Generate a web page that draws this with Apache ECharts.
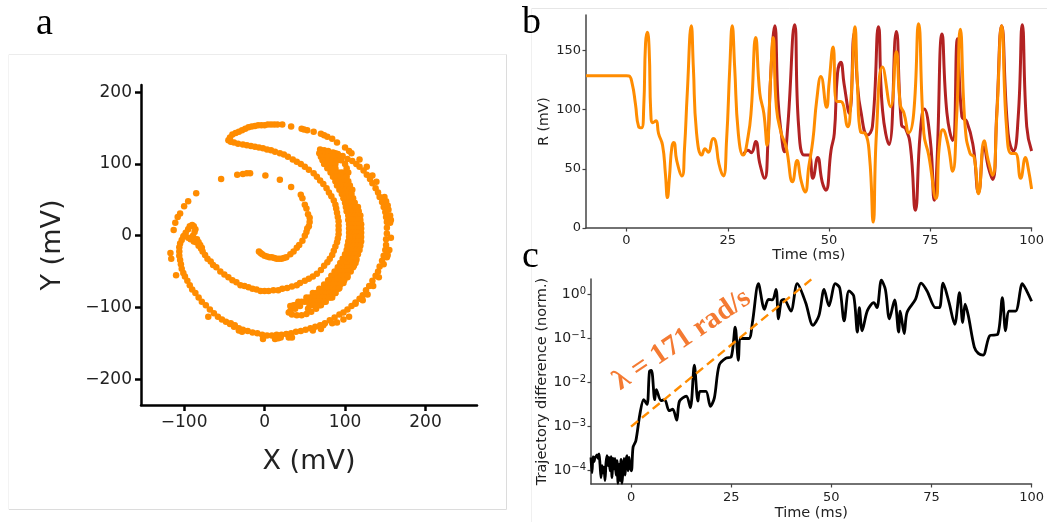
<!DOCTYPE html>
<html><head><meta charset="utf-8">
<style>html,body{margin:0;padding:0;background:#fff}#c{width:1047px;height:522px}</style>
<script src="https://cdn.jsdelivr.net/npm/echarts@6/dist/echarts.min.js"></script>
</head><body><div id="c"></div>
<script>
// Panel a: attractor samples (X mV, Y mV), by branch
const innerSpiral=[[-7,-22],[-5,-24],[-3,-26],[0,-28],[3,-29],[6,-30],[9,-30],[12,-31],[15,-32],[18,-32],[21,-32],[24,-31],[27,-30],[32,-26],[36,-22],[40,-17],[43,-13],[47,-7],[50,0],[52,5],[53,10],[55,13],[56,19],[56,25],[54,30],[52,38],[50,43],[47,52],[45,57],[33,68],[19,78],[1,84],[-18,87],[-22,87],[-27,86],[-34,85],[-54,79],[-85,59],[-95,48],[-100,41],[-105,31],[-108,26],[-111,18],[-113,8],[-117,-24],[-116,-32],[-110,-55]];
const middleArc=[[-45,133],[-42,131],[-38,130],[-33,128],[-27,127],[-22,126],[-17,125],[-12,124],[-7,123],[-2,122],[3,120],[8,119],[13,117],[19,115],[24,113],[29,110],[35,106],[40,103],[45,100],[50,96],[55,92],[61,87],[65,82],[69,77],[73,72],[77,66],[80,60],[83,55],[86,49],[88,43],[89,38],[90,32],[91,26],[92,20],[92,14],[92,8],[92,2],[91,-4],[90,-9],[88,-15],[86,-21],[84,-27],[81,-32],[78,-37],[74,-42],[70,-48],[65,-53],[60,-57],[55,-60],[50,-63],[44,-66],[40,-69],[34,-71],[28,-73],[22,-74],[17,-76],[11,-76],[5,-77],[0,-77],[-5,-77],[-10,-75],[-15,-74],[-20,-72],[-25,-70],[-30,-69],[-35,-65],[-40,-62],[-45,-58],[-50,-54],[-55,-50],[-60,-44],[-64,-41],[-67,-36],[-71,-32],[-74,-27],[-77,-22],[-79,-18],[-82,-14],[-85,-9],[-87,-5],[-89,0],[-87,5],[-86,9],[-88,13],[-90,15],[-93,13],[-95,9],[-98,4],[-100,0],[-95,-3],[-92,-5],[-88,-8],[-84,-5],[-82,-9],[-80,-13],[-78,-17]];
const outerArc=[[-101,-1],[-103,-6],[-105,-11],[-106,-16],[-106,-22],[-106,-28],[-105,-34],[-104,-40],[-103,-46],[-101,-52],[-99,-57],[-96,-63],[-93,-69],[-90,-75],[-86,-80],[-82,-86],[-78,-92],[-73,-97],[-68,-103],[-63,-108],[-58,-113],[-53,-117],[-48,-120],[-43,-123],[-38,-127],[-32,-129],[-27,-131],[-21,-133],[-15,-135],[-9,-136],[-3,-138],[3,-139],[9,-139],[15,-138],[21,-138],[27,-137],[33,-136],[39,-134],[45,-133],[51,-131],[57,-129],[63,-127],[69,-125],[75,-122],[81,-118],[87,-114],[93,-110],[98,-107],[103,-103],[108,-98],[113,-93],[118,-88],[122,-83],[126,-76],[130,-70],[134,-63],[138,-56],[141,-50],[143,-43],[146,-35],[148,-28],[150,-20],[151,-13],[151,-5],[152,3],[152,11],[152,19],[151,26],[150,33],[148,40],[146,47],[143,54],[141,60],[138,66],[134,73],[131,79],[127,85],[123,91],[118,96],[114,100],[109,104],[103,107],[97,111],[91,114],[85,116],[79,118],[74,119],[69,120]];
const outliers=[[-70,-113],[-42,-122],[-37,-125],[-28,-134],[-32,-132],[-2,-144],[13,-144],[17,-143],[20,-142],[30,-142],[34,-142],[60,-132],[70,-130],[73,-125],[84,-122],[90,-121],[98,-117],[105,-113],[113,-95],[122,-90],[128,-82],[135,-70],[142,-58],[148,-40],[152,-30],[155,-20],[153,-27]];
const topArc=[[-43,137],[-40,141],[-36,143],[-32,145],[-28,147],[-24,149],[-20,151],[-16,152],[-12,153],[-8,154],[-4,154],[0,154],[4,155],[8,155],[12,155],[16,155],[22,155],[33,152],[46,149],[49,148],[53,147],[61,145],[70,142],[74,140],[78,138],[84,135],[90,130],[100,123],[105,118],[108,115],[118,106],[127,96],[134,84],[139,75],[149,54],[151,48],[153,42],[154,36],[156,28],[157,22],[156,18],[157,-3]];
const bandEdges=[[30,-107],[34,-110],[40,-111],[46,-111],[52,-109],[58,-106],[64,-102],[70,-97],[76,-92],[82,-86],[88,-80],[93,-73],[98,-66],[103,-58],[107,-50],[111,-42],[114,-34],[116,-26],[32,-105],[38,-102],[44,-98]];
const bandFill=[[68,115],[72,115],[76,115],[80,115],[84,115],[88,115],[70,110],[74,110],[78,110],[82,110],[86,110],[92,110],[72,105],[76,105],[80,105],[84,105],[90,105],[95,105],[74,100],[78,100],[82,100],[88,100],[100,100],[78,94],[82,94],[88,94],[102,94],[82,88],[86,88],[92,88],[96,88],[100,88],[104,88],[85,82],[90,82],[94,82],[98,82],[102,82],[88,76],[92,76],[96,76],[100,76],[104,76],[90,70],[94,70],[98,70],[102,70],[106,70],[93,64],[97,64],[101,64],[105,64],[109,64],[96,58],[100,58],[104,58],[108,58],[98,52],[102,52],[106,52],[110,52],[100,46],[104,46],[108,46],[112,46],[101,40],[105,40],[109,40],[113,40],[116,40],[102,34],[106,34],[110,34],[114,34],[117,34],[104,28],[108,28],[112,28],[116,28],[119,28],[104,22],[108,22],[112,22],[116,22],[119,22],[105,16],[109,16],[113,16],[117,16],[120,16],[105,10],[109,10],[113,10],[117,10],[120,10],[105,4],[109,4],[113,4],[117,4],[120,4],[105,-2],[109,-2],[113,-2],[117,-2],[120,-2],[104,-8],[108,-8],[112,-8],[116,-8],[120,-8],[103,-14],[107,-14],[111,-14],[115,-14],[119,-14],[102,-20],[106,-20],[110,-20],[114,-20],[118,-20],[100,-26],[104,-26],[108,-26],[112,-26],[97,-32],[101,-32],[105,-32],[109,-32],[114,-32],[94,-38],[98,-38],[102,-38],[106,-38],[110,-38],[113,-38],[91,-44],[95,-44],[99,-44],[103,-44],[107,-44],[110,-44],[87,-50],[91,-50],[95,-50],[99,-50],[103,-50],[83,-56],[87,-56],[91,-56],[95,-56],[99,-56],[103,-56],[79,-62],[83,-62],[87,-62],[91,-62],[95,-62],[99,-62],[74,-68],[78,-68],[82,-68],[86,-68],[90,-68],[94,-68],[68,-74],[72,-74],[76,-74],[80,-74],[84,-74],[88,-74],[92,-74],[60,-80],[64,-80],[68,-80],[72,-80],[76,-80],[80,-80],[84,-80],[88,-80],[52,-86],[56,-86],[60,-86],[64,-86],[68,-86],[72,-86],[76,-86],[80,-86],[84,-86],[42,-92],[46,-92],[50,-92],[54,-92],[58,-92],[62,-92],[66,-92],[70,-92],[74,-92],[32,-98],[36,-97],[40,-96],[56,-97],[60,-97],[64,-97],[68,-97],[54,-102]];
// Panel b: R(t), reference and perturbed trajectories
const perturbedT=[-10,-5,0,0.6,1.4,2.2,3,3.7,4.25,4.7,5.15,5.6,6,6.5,7.3,7.9,8.9,9.6,10.1,10.6,11.2,11.7,12.4,13.7,14.3,15,16,16.5,17.3,18.6,19.4,20.2,21.4,22,22.8,23.9,24.7,25.5,26.1,26.7,27.6,28.8,30,30.8,31.9,32.9,33.9,34.7,35.5,36.2,37,38.2,39.4,41,42.1,43.1,44.1,45,46,46.95,48,49.4,50,51,51.9,52.9,54.6,55.4,56.4,57,57.8,58.9,60,60.9,61.7,63.2,65.2,66.6,67.6,68.5,69.7,70.9,72.1,73.4,74.6,76.4,77.2,78.1,79.3,80.5,81.5,82.4,83.6,84.8,85.8,86.9,88.3,89.3,90.4,91.4,92.6,93.8,95,96,97.3,98.5,99.1,100];
const perturbedR=[128.6,128.6,128.6,128.5,122,105,85.6,84.7,102,156,165.5,150,97,89,90.7,80,70,46,25.7,43,68.6,72.3,57,44,66,114,171,136,80,61.6,67,64,75.7,73,54.5,44,74,136,171,136,80,61.6,77,100,161,114,97,70,122,161,102,80,68.6,39,57,40,30.5,52,74,108,128,102,122,153,107,107,85.6,108,170,122,81,80,60,5,80,136,102.5,149,104,97,80.5,97,172.6,80,61.6,25,68.6,83,71.5,48,94,168,85.6,63,60,29,73.7,57,44.6,94,171,85.6,63,63,42,59.6,51.7,33];
const referenceT=[28.8,30,30.8,31.9,32.9,34.1,34.9,35.7,36.6,37.4,38.2,39,39.8,41.5,42.5,43.9,45,46,47.2,48.3,49.2,50.5,51.3,52.1,52.9,53.7,55,56.2,57,57.8,59.5,60.7,62.2,63.2,64.8,66.6,67.9,68.9,70.1,71.3,72.5,73.5,75,76,76.6,77.9,79.1,80.5,81.7,82.8,84,85.6,86.9,88.3,89.3,90.4,91.4,92.6,94.2,95.5,96.7,97.7,98.8,100];
const referenceR=[61.6,65.8,63.6,73,54.5,42,71.5,136,171,108,80,64.4,85.6,171.8,85.6,61.6,61.6,42,59.6,39,32,65.8,80,131,140,122,97,164.7,122,99.7,78.5,85.6,170,99.7,70.6,166,87,84,68.6,15,80,100.5,74,23.4,51.7,164,97,74,160,94,90,68.6,30,68.6,51.7,41,97,171,80,65,94,171.8,85.6,65];
// Panel c: normalised trajectory difference
const diffT=[-10,-9.75,-9.5,-9.25,-9,-8.75,-8.5,-8.25,-8,-7.75,-7.5,-7.25,-7,-6.75,-6.5,-6.25,-6,-5.75,-5.5,-5.25,-5,-4.75,-4.5,-4.25,-4,-3.75,-3.5,-3.25,-3,-2.75,-2.5,-2.25,-2,-1.75,-1.5,-1.25,-1,-0.75,-0.5,-0.25,0.1,0.5,1.2,2.2,3.15,4,4.6,5.1,5.9,6.3,7.5,8.4,9.5,10.4,11.4,12.1,13.8,14.8,15.8,16.7,17.2,18.7,19.8,20.8,22,23.7,25,26,26.8,27.4,29.4,30.3,31.8,33.3,34.3,35.3,36.2,36.8,37.5,38.2,39.9,41.5,43.6,45.4,46.9,48.2,49.4,51,52.1,53.2,54.4,55.6,56.5,57,57.7,59,60.6,61.4,62.5,63.5,64.5,65.8,66.8,67.2,68.2,68.9,71,72.4,73.9,76,77,77.9,79.4,80.8,82,82.8,83.4,84.2,85.7,86.7,87.9,89.6,91.5,92.7,93.5,94.4,96,97.7,98.8,100];
const diffV=[2e-4,9e-5,2.1e-4,1.6e-4,2e-4,2.1e-4,2.3e-4,1.9e-4,2.4e-4,1.4e-4,7e-5,1.3e-4,9e-5,1.2e-4,6e-5,1.5e-4,2.2e-4,1.3e-4,2e-4,1e-4,2.1e-4,7e-5,1.9e-4,1.1e-4,1.9e-4,8e-5,1.7e-4,5.2e-5,1.4e-4,6e-5,1.8e-4,5.2e-5,1.1e-4,1.9e-4,8e-5,1.7e-4,2.2e-4,1e-4,2e-4,1.2e-4,1e-4,3.4e-4,4.8e-4,1.9e-3,4.1e-3,3.2e-3,1.8e-2,1.9e-2,4.1e-3,6.9e-3,3.9e-3,4.1e-3,2.3e-3,2.5e-3,1.4e-3,3.8e-3,4.9e-3,2.7e-3,2.5e-2,3.8e-3,6.3e-3,6.3e-3,2.9e-3,4.5e-3,2.5e-2,3.6e-2,3.8e-2,0.18,3.2e-2,0.1,0.1,0.23,1.76,0.46,0.77,0.75,1.3,0.28,0.71,0.77,0.42,1.76,0.65,0.2,0.33,1.3,0.55,1.76,1.4,0.25,1.2,0.92,0.14,0.5,0.15,0.43,0.65,0.5,2.1,1.3,0.28,0.75,0.14,0.42,0.13,0.39,0.77,1.8,1.2,0.5,0.5,1.8,0.65,0.21,1.1,0.23,0.6,0.33,0.064,0.046,0.042,0.117,0.123,0.85,0.15,0.42,0.42,1.76,1.19,0.7];
const fitT=[0,45];
const fitV=[1e-3,2.19];
const logTicks=[1e-4,1e-3,1e-2,1e-1,1];
const panelLabels=['a','b','c'];
const fitLabel='λ = 171 rad/s';

const zip=(a,b)=>a.map((v,i)=>[v,b[i]]);
const sans='"DejaVu Sans"';
const ORANGE='#ff8c00', RED='#b22222', INK='#222';
const minus=v=>String(v).replace('-','\u2212');
const nameStyle=s=>({fontSize:s,color:INK,fontFamily:sans});
function axis(idx,o,color,w,font,tickLen,margin,ticks,fmt){
  return Object.assign({gridIndex:idx,nameLocation:'middle',
    axisLine:{onZero:false,lineStyle:{color:color,width:w}},splitLine:{show:false},
    axisTick:{length:tickLen,lineStyle:{color:color,width:w>2?w:1.2},customValues:ticks},
    axisLabel:{color:INK,fontFamily:sans,fontSize:font,margin:margin,customValues:ticks,formatter:fmt||minus}},o);
}
const allPts=[innerSpiral,middleArc,outerArc,outliers,topArc,bandEdges,bandFill].flat();
const option={
 animation:false,
 grid:[{left:141,top:85,width:336,height:320},{left:586,top:15,width:447,height:213},{left:591,top:279,width:442,height:209}],
 xAxis:[
  axis(0,{type:'value',min:-153.6,max:264,name:'X (mV)',nameGap:43,nameTextStyle:nameStyle(27)},'#000',2.5,17,6,9,[-100,0,100,200]),
  axis(1,{type:'value',min:-10,max:100,name:'Time (ms)',nameGap:19,nameTextStyle:nameStyle(14.5)},'#444',1.5,13,3.5,6,[0,25,50,75,100]),
  axis(2,{type:'value',min:-10,max:100,name:'Time (ms)',nameGap:22,nameTextStyle:nameStyle(14.5)},'#444',1.5,13,3.5,7,[0,25,50,75,100])
 ],
 yAxis:[
  axis(0,{type:'value',min:-236,max:210,name:'Y (mV)',nameGap:75,nameTextStyle:nameStyle(27)},'#000',2.5,17,6,9,[-200,-100,0,100,200]),
  axis(1,{type:'value',min:0,max:180,name:'R (mV)',nameGap:35,nameTextStyle:nameStyle(14)},'#444',1.5,13,3.5,5,[0,50,100,150]),
  axis(2,{type:'log',min:5e-5,max:2.24,name:'Trajectory difference (norm.)',nameGap:41,nameTextStyle:nameStyle(14.5)},'#444',1.5,14,3.5,5,logTicks,
    v=>'{b|10}{s|'+minus(Math.round(Math.log10(v)))+'}')
 ],
 series:[
  {type:'scatter',xAxisIndex:0,yAxisIndex:0,data:allPts,symbolSize:6.5,itemStyle:{color:ORANGE,opacity:1},silent:true},
  {type:'line',xAxisIndex:1,yAxisIndex:1,data:zip(referenceT,referenceR),showSymbol:false,smooth:0.5,lineStyle:{color:RED,width:3},z:2},
  {type:'line',xAxisIndex:1,yAxisIndex:1,data:zip(perturbedT,perturbedR),showSymbol:false,smooth:0.5,lineStyle:{color:ORANGE,width:3},z:3},
  {type:'line',xAxisIndex:2,yAxisIndex:2,data:zip(diffT,diffV),showSymbol:false,smooth:0.3,lineStyle:{color:'#000',width:2.8},z:2},
  {type:'line',xAxisIndex:2,yAxisIndex:2,data:zip(fitT,fitV),showSymbol:false,lineStyle:{color:ORANGE,width:2.4,type:[9,5]},z:3}
 ],
 graphic:[
  {type:'line',silent:true,shape:{x1:9,y1:54.5,x2:506.5,y2:54.5},style:{stroke:'#ececec',lineWidth:1}},
  {type:'line',silent:true,shape:{x1:506.5,y1:54.5,x2:506.5,y2:509.5},style:{stroke:'#dcdcdc',lineWidth:1}},
  {type:'line',silent:true,shape:{x1:9,y1:509.5,x2:506.5,y2:509.5},style:{stroke:'#dcdcdc',lineWidth:1}},
  {type:'line',silent:true,shape:{x1:8.5,y1:54.5,x2:8.5,y2:509.5},style:{stroke:'#f3f3f3',lineWidth:1}},
  {type:'line',silent:true,shape:{x1:531.5,y1:8.5,x2:1047,y2:8.5},style:{stroke:'#e6e6e6',lineWidth:1}},
  {type:'line',silent:true,shape:{x1:531.5,y1:8.5,x2:531.5,y2:522},style:{stroke:'#f0f0f0',lineWidth:1}},
  {type:'text',left:36,top:5,style:{text:panelLabels[0],font:'38px "Liberation Serif"',fill:'#000'}},
  {type:'text',left:522,top:4,style:{text:panelLabels[1],font:'38px "Liberation Serif"',fill:'#000'}},
  {type:'text',left:522,top:238,style:{text:panelLabels[2],font:'38px "Liberation Serif"',fill:'#000'}},
  {type:'text',x:682,y:340,rotation:34*Math.PI/180,style:{text:fitLabel,font:'bold 29px "Liberation Serif"',fill:'#f47a32',textAlign:'center',textVerticalAlign:'middle'}}
 ]
};
option.yAxis[2].axisLabel.rich={b:{fontSize:14,fontFamily:sans,color:INK},s:{fontSize:10,fontFamily:sans,color:INK,padding:[0,0,7,0]}};
echarts.init(document.getElementById('c'),null,{renderer:'canvas'}).setOption(option);
</script></body></html>
